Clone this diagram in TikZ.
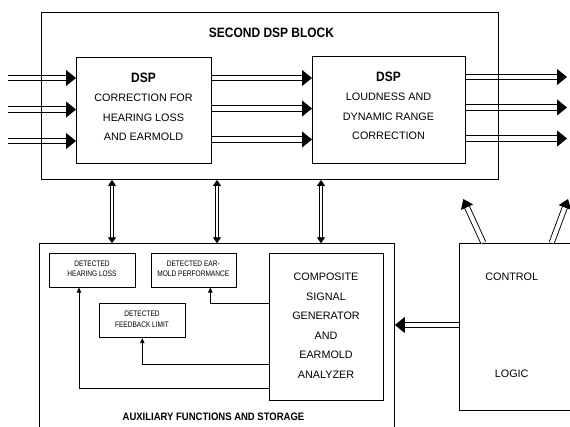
\documentclass[tikz,border=0pt]{standalone}
\usepackage{fontspec}
\setmainfont{Liberation Sans}
\newfontfamily\cond[FakeStretch=0.88]{Liberation Sans}
\newfontfamily\condsmall[FakeStretch=0.82]{Liberation Sans}
\usetikzlibrary{arrows.meta,calc}
\begin{document}
\begin{tikzpicture}[x=1pt,y=-1pt,
  box/.style={draw, line width=0.9pt, anchor=north west, inner sep=0pt},
  reg/.style={font=\fontsize{10.8}{19.3}\selectfont, align=center, inner sep=0pt},
  ttl/.style={font=\cond\bfseries\fontsize{13.6}{16}\selectfont, inner sep=0pt},
  small/.style={font=\condsmall\fontsize{8}{10.7}\selectfont, align=center},
  bigdbl/.style={double, double distance=4.6pt, line width=1pt, -{Triangle[length=10pt,width=16pt]}},
  vdbl/.style={double, double distance=2.4pt, line width=0.9pt, {Triangle[length=6pt,width=8pt]}-{Triangle[length=6pt,width=8pt]}},
  updbl/.style={double, double distance=4.2pt, line width=0.9pt, -{Triangle[length=9pt,width=13pt]}},
  thin/.style={line width=0.9pt, -{Triangle[length=5pt,width=4.5pt]}}]
\useasboundingbox (0,0) rectangle (570,427);

% boxes
\node[box, minimum width=135pt, minimum height=106pt] (dspA) at (76,57) {};
\node[box, minimum width=153pt, minimum height=107pt] (dspB) at (312,56) {};
\node[box, minimum width=114pt, minimum height=147pt] (comp) at (269,253) {};
\node[box, minimum width=85.4pt, minimum height=33.4pt] (hl) at (49.3,253.3) {};
\node[box, minimum width=85.3pt, minimum height=33.4pt] (em) at (150.7,253.3) {};
\node[box, minimum width=85.4pt, minimum height=34pt] (fb) at (99.3,303.3) {};
\node[box, minimum width=140pt, minimum height=167.3pt] (ctrl) at (459,242.7) {};

% input / through / output arrows
\foreach \i/\ya/\yb/\yc in {1/78/78/77, 2/109.5/108.5/107.5, 3/141/139.5/138.5}{
  \coordinate (in\i) at (8,\ya);
  \coordinate (mid\i) at (0,\yb);
  \coordinate (out\i) at (567,\yc);
  \draw[bigdbl] (in\i) -- (dspA.west |- in\i);
  \draw[bigdbl] (dspA.east |- mid\i) -- (dspB.west |- mid\i);
  \draw[bigdbl] (dspB.east |- out\i) -- (out\i);
}

% outer boxes drawn over the arrows
\node[box, minimum width=457.3pt, minimum height=166.7pt] (outer) at (40.7,12.3) {};
\node[box, minimum width=354.7pt, minimum height=200pt] (aux) at (39.3,243.3) {};

% vertical links
\foreach \x [count=\k] in {112,217,321}{
  \coordinate (vx\k) at (\x,0);
  \draw[vdbl] (outer.south -| vx\k) -- (aux.north -| vx\k);
}

% control -> aux
\coordinate (cy) at (0,325);
\draw[bigdbl] (ctrl.west |- cy) -- (aux.east |- cy);

% control up arrows
\coordinate (up1) at (463.3,199);
\coordinate (up2) at (568,199);
\draw[updbl] ($(ctrl.north west)+(24.3,0)$) -- (up1);
\draw[updbl] ($(ctrl.north west)+(92.7,0)$) -- (up2);

% internal connectors
\coordinate (xe) at (210.3,303.3);
\coordinate (xf) at (142.3,364);
\coordinate (xh) at (79,388.3);
\draw[thin] (comp.west |- xe) -| (em.south -| xe);
\draw[thin] (comp.west |- xf) -| (fb.south -| xf);
\draw[thin] (comp.west |- xh) -| (hl.south -| xh);

% texts
\node[ttl] (tOuter) at (271.5,32.7) {SECOND DSP BLOCK};
\node[ttl] (tA1) at (143.5,78) {DSP};
\node[reg] (tA2) at (143.5,117.5) {CORRECTION FOR\\HEARING LOSS\\AND EARMOLD};
\node[ttl] (tB1) at (388.5,77) {DSP};
\node[reg] (tB2) at (388.5,116.5) {LOUDNESS AND\\DYNAMIC RANGE\\CORRECTION};
\node[small] (tHL) at (92,268.7) {DETECTED\\HEARING LOSS};
\node[small] (tEM) at (193.3,268.7) {DETECTED EAR-\\MOLD PERFORMANCE};
\node[small] (tFB) at (142,319.3) {DETECTED\\FEEDBACK LIMIT};
\node[reg, font=\fontsize{10.8}{19.5}\selectfont] (tComp) at (326,325.5) {COMPOSITE\\SIGNAL\\GENERATOR\\AND\\EARMOLD\\ANALYZER};
\node[reg] (tCtl) at (511.7,276.7) {CONTROL};
\node[reg] (tLog) at (511.7,374) {LOGIC};
\node[ttl, font=\cond\bfseries\fontsize{10.8}{13}\selectfont] (tAux) at (213.5,417) {AUXILIARY FUNCTIONS AND STORAGE};
\end{tikzpicture}
\end{document}
